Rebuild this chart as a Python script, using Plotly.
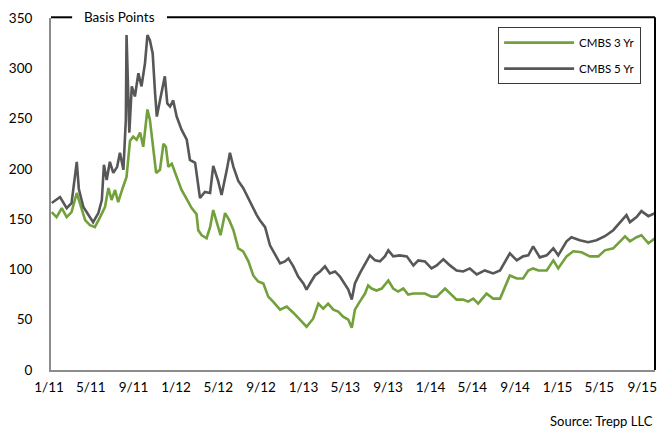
import plotly.graph_objects as go

# ---------------- data ----------------
dates_5yr = [
    "2011-01-03", "2011-01-27", "2011-02-15", "2011-03-01", "2011-03-16", "2011-03-22",
    "2011-04-04", "2011-04-18", "2011-05-02", "2011-05-17", "2011-05-27", "2011-06-02",
    "2011-06-10", "2011-06-19", "2011-06-29", "2011-07-10", "2011-07-18", "2011-07-28",
    "2011-08-04", "2011-08-06", "2011-08-14", "2011-08-21", "2011-08-30", "2011-09-09",
    "2011-09-18", "2011-09-28", "2011-10-05", "2011-10-12", "2011-10-20", "2011-10-27",
    "2011-11-01", "2011-11-10", "2011-11-18", "2011-11-24", "2011-12-01", "2011-12-09",
    "2011-12-18", "2011-12-28", "2012-01-11", "2012-01-26", "2012-02-04", "2012-02-19",
    "2012-03-04", "2012-03-18", "2012-04-02", "2012-04-11", "2012-04-25", "2012-05-05",
    "2012-05-20", "2012-05-29", "2012-06-08", "2012-06-22", "2012-07-06", "2012-07-21",
    "2012-07-30", "2012-08-14", "2012-08-23", "2012-09-07", "2012-09-21", "2012-10-05",
    "2012-10-20", "2012-11-03", "2012-11-13", "2012-11-27", "2012-12-11", "2012-12-26",
    "2013-01-04", "2013-01-14", "2013-01-28", "2013-02-12", "2013-02-26", "2013-03-12",
    "2013-03-27", "2013-04-10", "2013-04-24", "2013-05-04", "2013-05-14", "2013-05-23",
    "2013-06-06", "2013-06-21", "2013-07-05", "2013-07-20", "2013-08-03", "2013-08-17",
    "2013-08-27", "2013-09-10", "2013-09-29", "2013-10-19", "2013-11-07", "2013-11-21",
    "2013-12-10", "2013-12-29", "2014-01-13", "2014-02-01", "2014-02-20", "2014-03-11",
    "2014-03-30", "2014-04-18", "2014-05-08", "2014-05-31", "2014-06-24", "2014-07-14",
    "2014-07-28", "2014-08-11", "2014-08-31", "2014-09-18", "2014-10-03", "2014-10-17",
    "2014-11-05", "2014-11-25", "2014-12-14", "2014-12-28", "2015-01-21", "2015-02-04",
    "2015-02-28", "2015-03-24", "2015-04-17", "2015-05-11", "2015-06-04", "2015-06-23",
    "2015-07-12", "2015-07-22", "2015-08-10", "2015-08-24", "2015-09-13", "2015-10-02",
]
cmbs_5yr = [
    166, 172, 161, 166, 207, 180,
    162, 154, 147, 156, 169, 204,
    189, 207, 196, 202, 216, 199,
    249, 333, 236, 282, 272, 295,
    282, 305, 333, 328, 315, 275,
    252, 268, 282, 292, 265, 262,
    268, 252, 239, 229, 209, 206,
    171, 177, 176, 203, 188, 174,
    199, 216, 202, 188, 181, 170,
    164, 154, 149, 142, 124, 116,
    106, 108, 111, 103, 93, 86,
    80, 86, 94, 98, 103, 96,
    98, 93, 86, 80, 70, 86,
    96, 106, 114, 109, 108, 113,
    119, 113, 114, 113, 104, 109,
    108, 101, 104, 110, 104, 99,
    98, 101, 95, 99, 96, 99,
    108, 116, 109, 113, 114, 123,
    112, 114, 121, 114, 128, 132,
    129, 127, 129, 133, 139, 147,
    154, 147, 152, 158, 153, 156,
]

dates_3yr = [
    "2011-01-03", "2011-01-17", "2011-02-01", "2011-02-15", "2011-03-01", "2011-03-16",
    "2011-03-25", "2011-04-09", "2011-04-23", "2011-05-07", "2011-05-22", "2011-06-05",
    "2011-06-15", "2011-06-24", "2011-07-04", "2011-07-13", "2011-07-26", "2011-08-06",
    "2011-08-16", "2011-08-25", "2011-09-04", "2011-09-14", "2011-09-23", "2011-10-05",
    "2011-10-12", "2011-10-22", "2011-10-30", "2011-11-10", "2011-11-20", "2011-11-27",
    "2011-12-04", "2011-12-14", "2011-12-28", "2012-01-11", "2012-01-26", "2012-02-09",
    "2012-02-23", "2012-02-28", "2012-03-09", "2012-03-23", "2012-04-02", "2012-04-11",
    "2012-04-21", "2012-05-02", "2012-05-15", "2012-05-27", "2012-06-08", "2012-06-22",
    "2012-07-06", "2012-07-21", "2012-08-04", "2012-08-18", "2012-09-02", "2012-09-16",
    "2012-09-30", "2012-10-20", "2012-11-08", "2012-11-27", "2012-12-16", "2013-01-04",
    "2013-01-23", "2013-02-07", "2013-02-21", "2013-03-07", "2013-03-22", "2013-04-05",
    "2013-04-19", "2013-05-04", "2013-05-14", "2013-05-23", "2013-06-06", "2013-06-21",
    "2013-06-30", "2013-07-10", "2013-07-24", "2013-08-08", "2013-08-27", "2013-09-10",
    "2013-09-24", "2013-10-09", "2013-10-23", "2013-11-07", "2013-11-21", "2013-12-10",
    "2013-12-29", "2014-01-13", "2014-02-06", "2014-02-20", "2014-03-11", "2014-03-30",
    "2014-04-13", "2014-04-28", "2014-05-12", "2014-06-05", "2014-06-24", "2014-07-14",
    "2014-07-28", "2014-08-11", "2014-08-31", "2014-09-18", "2014-10-03", "2014-10-17",
    "2014-11-01", "2014-11-25", "2014-12-14", "2014-12-28", "2015-01-21", "2015-02-09",
    "2015-03-05", "2015-03-29", "2015-04-22", "2015-05-11", "2015-06-04", "2015-06-23",
    "2015-07-08", "2015-07-22", "2015-08-10", "2015-08-24", "2015-09-13", "2015-10-02",
]
cmbs_3yr = [
    157, 152, 161, 152, 157, 176,
    166, 149, 144, 142, 152, 162,
    181, 169, 179, 167, 181, 192,
    228, 232, 229, 236, 222, 259,
    249, 222, 196, 199, 225, 222,
    202, 205, 192, 179, 170, 161,
    155, 139, 134, 131, 142, 159,
    147, 134, 156, 149, 139, 121,
    118, 108, 94, 88, 86, 73,
    68, 60, 63, 57, 50, 43,
    51, 66, 61, 66, 60, 58,
    53, 50, 42, 60, 68, 76,
    84, 81, 79, 81, 89, 81,
    78, 81, 75, 76, 76, 76,
    73, 73, 81, 76, 70, 70,
    68, 71, 66, 76, 71, 71,
    83, 94, 91, 91, 99, 101,
    99, 99, 109, 101, 113, 118,
    117, 113, 113, 119, 121, 128,
    133, 128, 132, 134, 126, 131,
]

tick_dates = ["2011-01-01", "2011-05-01", "2011-09-01", "2012-01-01", "2012-05-01",
              "2012-09-01", "2013-01-01", "2013-05-01", "2013-09-01", "2014-01-01",
              "2014-05-01", "2014-09-01", "2015-01-01", "2015-05-01", "2015-09-01"]
tick_labels = ["1/11", "5/11", "9/11", "1/12", "5/12", "9/12", "1/13", "5/13", "9/13",
               "1/14", "5/14", "9/14", "1/15", "5/15", "9/15"]
y_ticks = [0, 50, 100, 150, 200, 250, 300, 350]

series_names = ["CMBS 3 Yr", "CMBS 5 Yr"]

# ---------------- styles ----------------
GREEN = "#72A03A"
GRAY = "#575757"
AXIS_GRAY = "#8C8C8C"
FONT = "Lato, 'Open Sans', sans-serif"

fig = go.Figure()
fig.add_trace(go.Scatter(x=dates_3yr, y=cmbs_3yr, mode="lines", name=series_names[0],
                         legendgroup="a",
                         line=dict(color=GREEN, width=2.6)))
fig.add_trace(go.Scatter(x=dates_5yr, y=cmbs_5yr, mode="lines", name=series_names[1],
                         legendgroup="b",
                         line=dict(color=GRAY, width=2.6)))

fig.update_layout(
    width=667, height=433,
    margin=dict(l=51, r=12, t=18, b=63, autoexpand=False),
    paper_bgcolor="white", plot_bgcolor="white",
    font=dict(family=FONT, size=13.5, color="#000000"),
    showlegend=True,
    legend=dict(
        x=0.977, xanchor="right", y=0.974, yanchor="top",
        bgcolor="white", bordercolor="#3A3A3A", borderwidth=1,
        font=dict(size=11.5, family=FONT, color="#000000"),
        tracegroupgap=7, itemwidth=70,
    ),
    xaxis=dict(
        type="date", automargin=False,
        range=["2011-01-01", "2015-10-02"],
        tickmode="array", tickvals=tick_dates, ticktext=tick_labels,
        showgrid=False, zeroline=False,
        showline=True, linecolor=AXIS_GRAY, linewidth=2,
        ticks="", ticklabelstandoff=4, ticklabelshift=-2,
        tickfont=dict(size=13.5),
    ),
    yaxis=dict(
        automargin=False,
        range=[0, 350], tickmode="array", tickvals=y_ticks,
        showgrid=False, zeroline=False,
        showline=True, linecolor=AXIS_GRAY, linewidth=2,
        ticks="", ticklabelstandoff=14,
        tickfont=dict(size=13.5),
    ),
)

# frame: black top (interrupted by the "Basis Points" label) and right border
fig.add_shape(type="line", xref="paper", yref="paper", x0=0, x1=0.035, y0=1.002, y1=1.002,
              line=dict(color="black", width=2), layer="above")
fig.add_shape(type="line", xref="paper", yref="paper", x0=0.192, x1=1.0, y0=1.002, y1=1.002,
              line=dict(color="black", width=2), layer="above")
fig.add_shape(type="line", xref="paper", yref="paper", x0=1.0, x1=1.0, y0=0, y1=1.002,
              line=dict(color="black", width=2), layer="above")

fig.add_annotation(text="Basis Points", xref="paper", yref="paper",
                   x=0.113, y=1.002, xanchor="center", yanchor="middle",
                   showarrow=False, font=dict(size=13.5, family=FONT, color="#000000"))
fig.add_annotation(text="Source: Trepp LLC", xref="paper", yref="paper",
                   x=1.0, y=-0.145, xanchor="right", yanchor="middle",
                   showarrow=False, font=dict(size=13, family=FONT, color="#000000"))

fig.write_html(
    "out.html",
    config={"displayModeBar": False},
    post_script="document.body.style.margin='0';document.body.style.padding='0';",
)
